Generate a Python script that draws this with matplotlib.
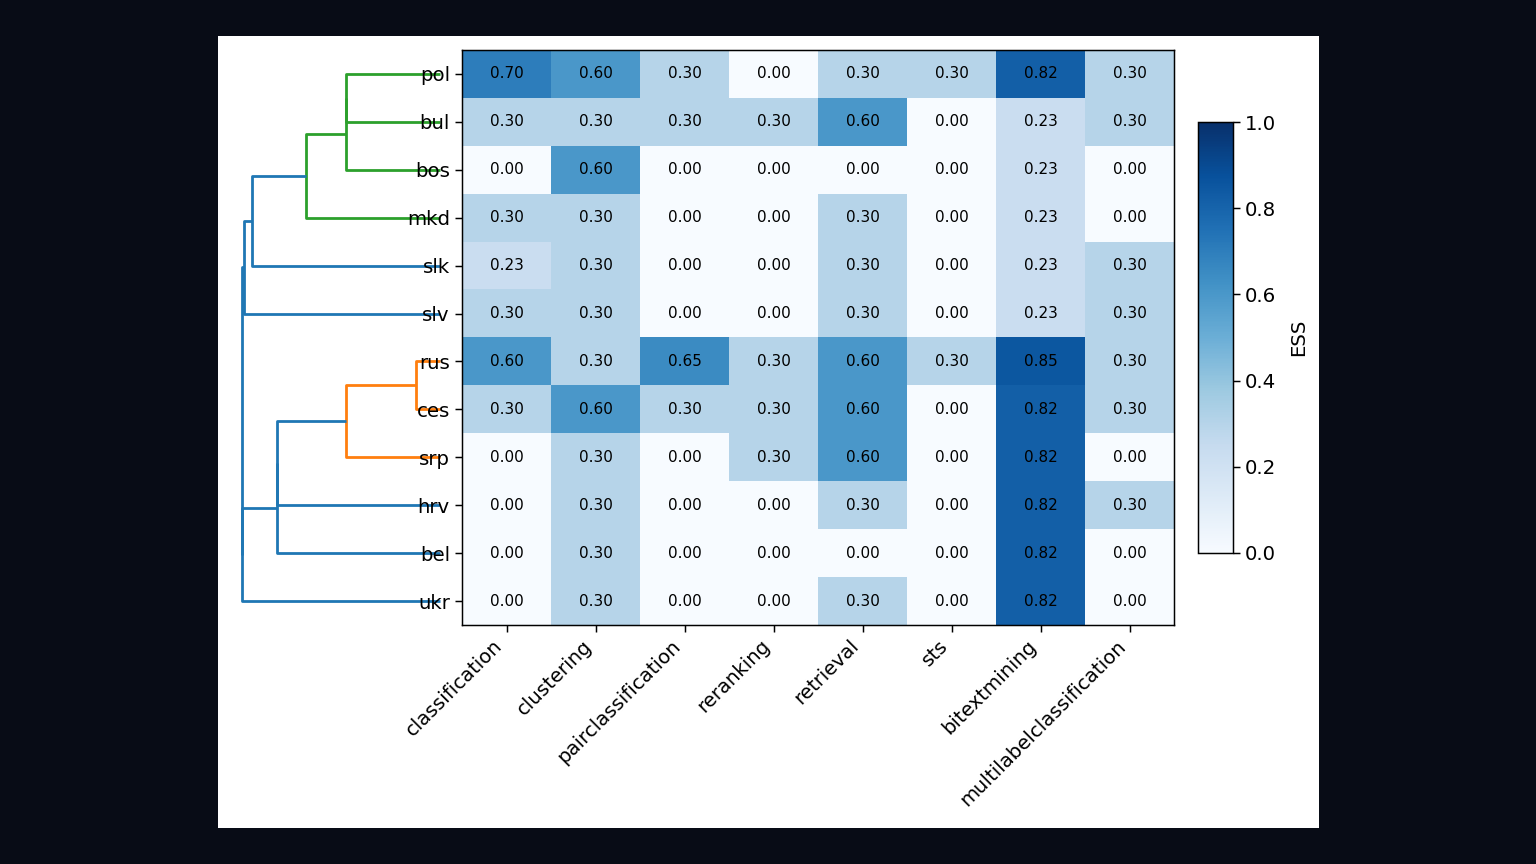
import matplotlib
matplotlib.use("Agg")
import matplotlib.pyplot as plt
import numpy as np

# rows in dendrogram (display) order
languages = ["pol", "bul", "bos", "mkd", "slk", "slv", "rus", "ces", "srp", "hrv", "bel", "ukr"]
tasks = ["classification", "clustering", "pairclassification", "reranking",
         "retrieval", "sts", "bitextmining", "multilabelclassification"]

ess = np.array([
    [0.70, 0.60, 0.30, 0.00, 0.30, 0.30, 0.82, 0.30],  # pol
    [0.30, 0.30, 0.30, 0.30, 0.60, 0.00, 0.23, 0.30],  # bul
    [0.00, 0.60, 0.00, 0.00, 0.00, 0.00, 0.23, 0.00],  # bos
    [0.30, 0.30, 0.00, 0.00, 0.30, 0.00, 0.23, 0.00],  # mkd
    [0.23, 0.30, 0.00, 0.00, 0.30, 0.00, 0.23, 0.30],  # slk
    [0.30, 0.30, 0.00, 0.00, 0.30, 0.00, 0.23, 0.30],  # slv
    [0.60, 0.30, 0.65, 0.30, 0.60, 0.30, 0.85, 0.30],  # rus
    [0.30, 0.60, 0.30, 0.30, 0.60, 0.00, 0.82, 0.30],  # ces
    [0.00, 0.30, 0.00, 0.30, 0.60, 0.00, 0.82, 0.00],  # srp
    [0.00, 0.30, 0.00, 0.00, 0.30, 0.00, 0.82, 0.30],  # hrv
    [0.00, 0.30, 0.00, 0.00, 0.00, 0.00, 0.82, 0.00],  # bel
    [0.00, 0.30, 0.00, 0.00, 0.30, 0.00, 0.82, 0.00],  # ukr
])

# linkage, scipy style: (child a, child b, distance, link colour); new clusters get ids 12, 13, ...
merges = [
    (0, 1, 0.475, "C2"),
    (12, 2, 0.475, "C2"),
    (13, 3, 0.677, "C2"),
    (14, 4, 0.949, "C0"),
    (15, 5, 0.990, "C0"),
    (6, 7, 0.121, "C1"),
    (17, 8, 0.475, "C1"),
    (18, 9, 0.823, "C0"),
    (19, 10, 0.823, "C0"),
    (20, 11, 1.000, "C0"),
    (16, 21, 1.000, "C0"),
]

W, H = 1536, 864
def box(x0, y0, x1, y1):
    # pixel box -> figure fraction rect
    return [x0 / W, 1 - y1 / H, (x1 - x0) / W, (y1 - y0) / H]

fig = plt.figure(figsize=(15.36, 8.64), dpi=100, facecolor="#080c16")
bg = fig.add_axes(box(218, 36, 1319, 828), zorder=-5)
bg.set_facecolor("white")
bg.set_xticks([]); bg.set_yticks([])
for s in bg.spines.values():
    s.set_visible(False)

fs_tick = 14.2
fs_ann = 11

# heatmap
ax = fig.add_axes(box(462, 50, 1174, 625))
im = ax.imshow(ess, cmap="Blues", vmin=0, vmax=1, aspect="auto")
for i in range(ess.shape[0]):
    for j in range(ess.shape[1]):
        ax.text(j, i, f"{ess[i, j]:.2f}", ha="center", va="center", fontsize=fs_ann, color="black")
ax.set_xticks(range(len(tasks)))
ax.set_xticklabels(tasks, rotation=45, ha="right", fontsize=fs_tick)
ax.set_yticks(range(len(languages)))
ax.set_yticklabels(languages, fontsize=fs_tick)
ax.tick_params(length=4.7, width=1.07)
ax.tick_params(axis="y", pad=4)
for s in ax.spines.values():
    s.set_linewidth(1.07)

# dendrogram, behind the heatmap's row labels
dax = fig.add_axes(box(242, 50, 440, 625), zorder=-1)
dax.patch.set_visible(False)
pos = {i: float(i) for i in range(len(languages))}
hgt = {i: 0.0 for i in range(len(languages))}
colors = {"C0": "#1f77b4", "C1": "#ff7f0e", "C2": "#2ca02c"}
for k, (a, b, d, c) in enumerate(merges):
    nid = len(languages) + k
    dax.plot([hgt[a], d, d, hgt[b]], [pos[a], pos[a], pos[b], pos[b]],
             color=colors[c], lw=2.0, clip_on=False, solid_capstyle="butt")
    pos[nid] = (pos[a] + pos[b]) / 2
    hgt[nid] = d
dax.set_xlim(1.0, 0.0)
dax.set_ylim(len(languages) - 0.5, -0.5)
dax.axis("off")

# colorbar
cax = fig.add_axes(box(1198, 122, 1233, 553))
cb = fig.colorbar(im, cax=cax)
cb.set_ticks([0.0, 0.2, 0.4, 0.6, 0.8, 1.0])
cb.ax.tick_params(labelsize=fs_tick, length=4.7, width=1.07)
cb.outline.set_linewidth(1.07)
cb.set_label("ESS", fontsize=fs_tick, labelpad=10)

fig.savefig("out.png", dpi=100, facecolor=fig.get_facecolor())
